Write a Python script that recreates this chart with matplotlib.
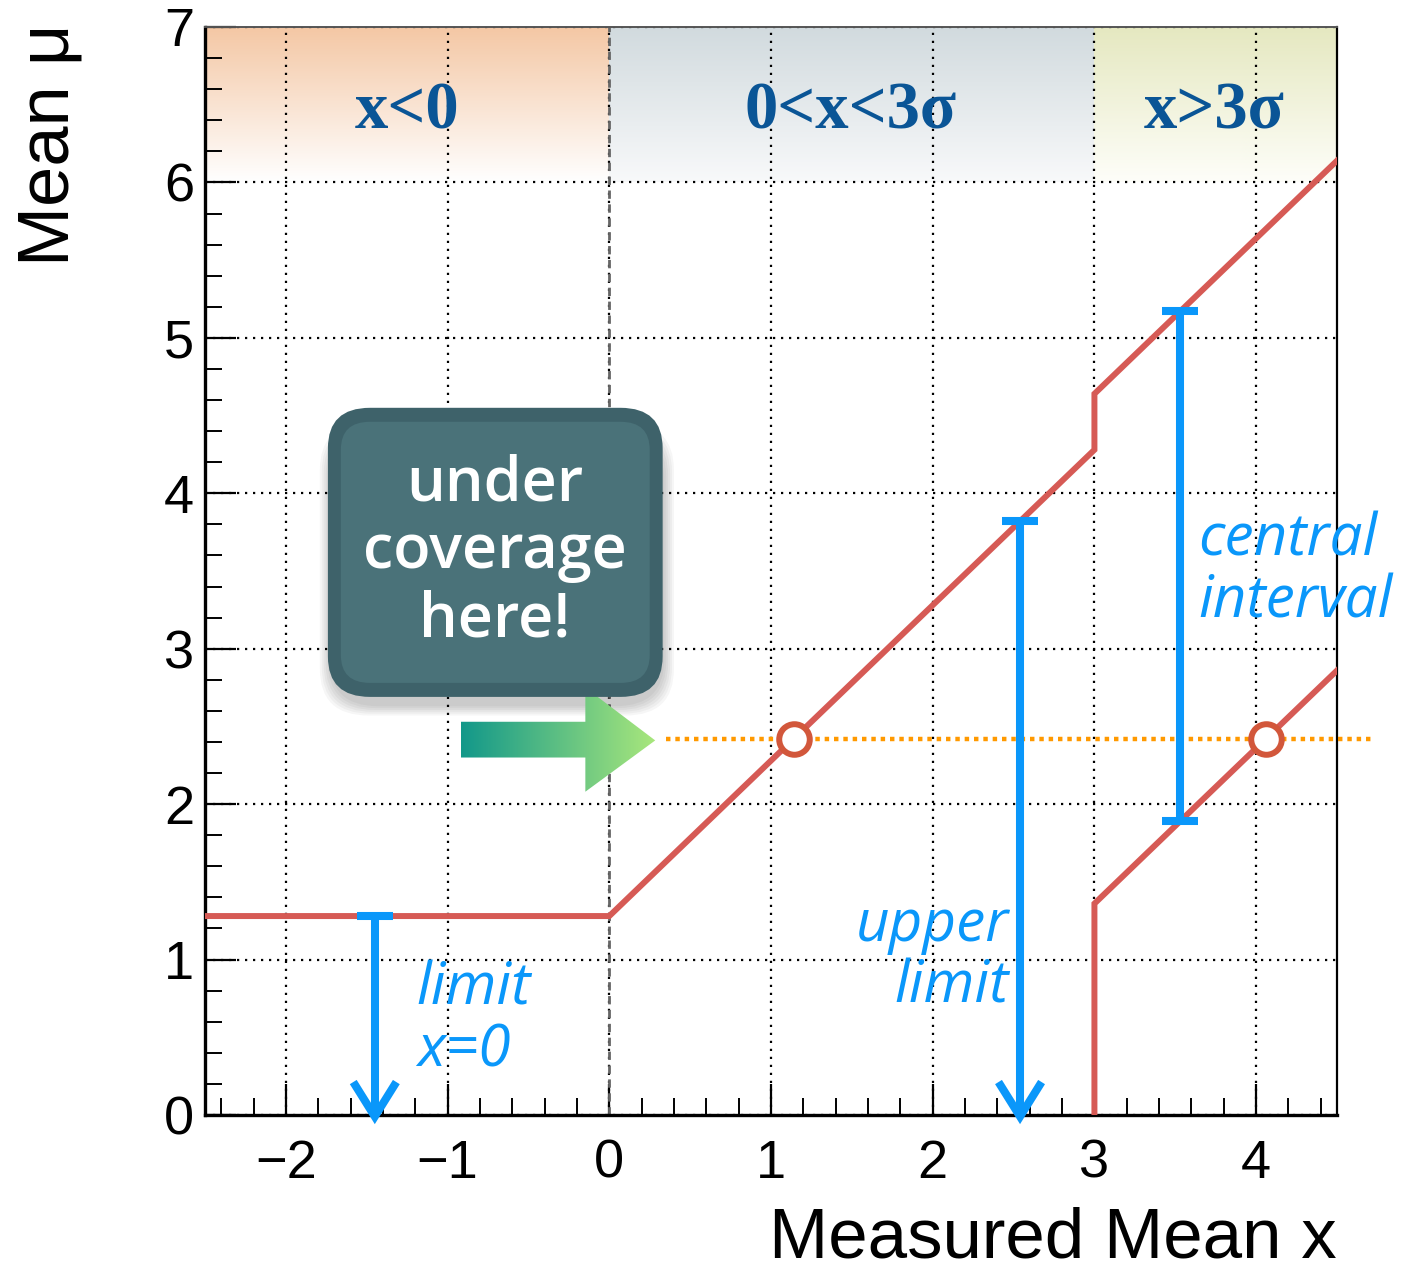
import numpy as np
import matplotlib
matplotlib.use("Agg")
import matplotlib.pyplot as plt
from matplotlib.patches import FancyBboxPatch, Polygon
from matplotlib.colors import to_rgb
from matplotlib.ticker import MultipleLocator

# ---- data -------------------------------------------------------------
x_range = [-2.5, 4.5]
mu_range = [0.0, 7.0]

# flip-flopping confidence belt (90% CL)
belt_upper_x = [-2.5, 0.0, 3.0, 3.0, 4.5]
belt_upper_mu = [1.28, 1.28, 4.28, 4.64, 6.14]
belt_lower_x = [3.0, 3.0, 4.5]
belt_lower_mu = [0.0, 1.36, 2.86]

# true mean tested and where it crosses the belt
mu_test = 2.42
mu_test_xspan = [0.35, 4.73]
crossing_x = [1.14, 4.06]

# example intervals
limit_x0_x, limit_x0_top = -1.45, 1.28
upper_limit_x, upper_limit_top = 2.54, 3.82
central_x, central_lo, central_hi = 3.53, 1.89, 5.17

# regions
region_edges = [-2.5, 0.0, 3.0, 4.5]
region_labels = ["x<0", "0<x<3σ", "x>3σ"]
region_label_x = [-1.25, 1.49, 3.74]
region_top_colors = ["#F4C7A4", "#D1DADE", "#E5E8C0"]
region_bottom_colors = ["#FFFFFF", "#F8F9FA", "#FEFEF9"]

x_ticks = [-2, -1, 0, 1, 2, 3, 4]
y_ticks = [0, 1, 2, 3, 4, 5, 6, 7]

# ---- figure -----------------------------------------------------------
W, H = 1419, 1263
fig = plt.figure(figsize=(W / 100, H / 100), dpi=100)
ax = fig.add_axes([205 / W, 1 - 1115 / H, (1337 - 205) / W, (1115 - 27) / H])
ax.set_xlim(*x_range)
ax.set_ylim(*mu_range)

RED = "#D65A55"
BLUE = "#0A97FA"
NAVY = "#0A5596"

# gradient bands at the top
for i in range(3):
    top = np.array(to_rgb(region_top_colors[i]))
    bot = np.array(to_rgb(region_bottom_colors[i]))
    t = np.linspace(0, 1, 200)[:, None]
    img = (top * (1 - t) + bot * t)[:, None, :]
    ax.imshow(img, extent=[region_edges[i], region_edges[i + 1], 6.0, 7.0],
              origin="upper", aspect="auto", zorder=0, interpolation="bilinear")
    ax.text(region_label_x[i], 6.45, region_labels[i], ha="center", va="center",
            fontsize=48, fontweight="bold", family="Liberation Serif", color=NAVY,
            zorder=3)

ax.set_xlim(*x_range)
ax.set_ylim(*mu_range)

# grid, ticks
ax.xaxis.set_major_locator(MultipleLocator(1))
ax.xaxis.set_minor_locator(MultipleLocator(0.2))
ax.yaxis.set_major_locator(MultipleLocator(1))
ax.yaxis.set_minor_locator(MultipleLocator(0.2))
ax.set_xticks(x_ticks)
ax.set_yticks(y_ticks)
ax.grid(True, which="major", color="black", linestyle=(0, (1, 2.6)), linewidth=1.6, zorder=1)
ax.set_axisbelow(True)
ax.tick_params(which="major", direction="in", length=22, width=1.6, top=False, right=False,
               labelsize=39)
ax.tick_params(which="minor", direction="in", length=12, width=1.4, top=False, right=False)
ax.tick_params(axis="x", which="major", pad=17)
ax.tick_params(axis="y", which="major", pad=8)
for lab in ax.get_xticklabels() + ax.get_yticklabels():
    lab.set_family("Liberation Sans")
for side in ["left", "bottom"]:
    ax.spines[side].set_linewidth(2.4)
ax.spines["right"].set_linewidth(1.6)
ax.spines["top"].set_linewidth(1.4)
ax.spines["top"].set_color("#555555")

# region separator at x = 0
ax.axvline(0.0, color="#666666", linestyle=(0, (3, 2)), linewidth=2.0, zorder=2)

# belt
ax.plot(belt_upper_x, belt_upper_mu, color=RED, lw=4.3, zorder=4, solid_joinstyle="miter")
ax.plot(belt_lower_x, belt_lower_mu, color=RED, lw=4.3, zorder=4, solid_joinstyle="miter")

# tested mean
ax.plot(mu_test_xspan, [mu_test, mu_test], color="#FF9900", lw=3.2,
        linestyle=(0, (1, 1.1)), zorder=5, clip_on=False)
ax.plot(crossing_x, [mu_test] * len(crossing_x), "o", ms=22, mfc="white",
        mec="#D2573B", mew=4.3, zorder=6)


def down_arrow(x, top):
    ax.plot([x, x], [0.02, top], color=BLUE, lw=5.8, zorder=7, solid_capstyle="butt")
    ax.plot([x - 0.11, x + 0.11], [top, top], color=BLUE, lw=5.8, zorder=7,
            solid_capstyle="butt")
    ax.plot([x - 0.12, x, x + 0.12], [0.19, -0.01, 0.19], color=BLUE, lw=5.8,
            zorder=7, solid_joinstyle="miter", clip_on=False)


down_arrow(limit_x0_x, limit_x0_top)
down_arrow(upper_limit_x, upper_limit_top)

ax.plot([central_x, central_x], [central_lo, central_hi], color=BLUE, lw=5.8, zorder=7,
        solid_capstyle="butt")
for yv in (central_lo, central_hi):
    ax.plot([central_x - 0.11, central_x + 0.11], [yv, yv], color=BLUE, lw=5.8, zorder=7,
            solid_capstyle="butt")

lab_kw = dict(fontsize=42, style="italic", family="Open Sans", color=BLUE, zorder=8,
              linespacing=1.07)
ax.text(-1.19, 0.61, "limit\nx=0", ha="left", va="center", **lab_kw)
ax.text(2.47, 1.02, "upper\nlimit", ha="right", va="center", multialignment="right", **lab_kw)
ax.text(3.64, 3.50, "central\ninterval", ha="left", va="center", **lab_kw)

# callout box with soft shadow underneath
bx0, bx1, by0, by1 = -1.74, 0.33, 2.69, 4.55
for k in range(6):
    grow = 0.06 - 0.012 * k
    ax.add_patch(FancyBboxPatch((bx0 - grow + 0.01, by0 - grow - 0.06),
                                bx1 - bx0 + 2 * grow, by1 - by0 + 2 * grow - 0.1,
                                boxstyle="round,pad=0,rounding_size=0.3",
                                fc="black", ec="none", alpha=0.035, zorder=9, clip_on=False))
ax.add_patch(FancyBboxPatch((bx0, by0), bx1 - bx0, by1 - by0,
                            boxstyle="round,pad=0,rounding_size=0.26",
                            fc="#3E626A", ec="none", zorder=10, clip_on=False))
ax.add_patch(FancyBboxPatch((bx0 + 0.08, by0 + 0.09), bx1 - bx0 - 0.16, by1 - by0 - 0.18,
                            boxstyle="round,pad=0,rounding_size=0.18",
                            fc="#4A7279", ec="none", zorder=10, clip_on=False))
ax.text(-0.71, 3.62, "under\ncoverage\nhere!", ha="center", va="center", color="white",
        fontsize=44, family="Open Sans", fontweight="semibold", linespacing=1.13, zorder=11)

# gradient arrow pointing at the tested mean
arrow_verts = [(-0.92, 2.30), (-0.92, 2.53), (-0.148, 2.53), (-0.148, 2.75),
               (0.284, 2.41), (-0.148, 2.08), (-0.148, 2.30)]
arrow_patch = Polygon(arrow_verts, closed=True, fc="none", ec="none", zorder=9)
ax.add_patch(arrow_patch)
c0 = np.array(to_rgb("#12988A"))
c1 = np.array(to_rgb("#A9E77C"))
s = np.linspace(0, 1, 300)[None, :, None]
grad = c0 * (1 - s) + c1 * s
im = ax.imshow(grad, extent=[-0.92, 0.284, 2.08, 2.75], aspect="auto", zorder=9,
               interpolation="bilinear")
im.set_clip_path(arrow_patch)

ax.set_xlim(*x_range)
ax.set_ylim(*mu_range)

# axis titles
fig.text(50 / W, 1 - 24 / H, "Mean μ", rotation=90, ha="center", va="top",
         fontsize=52, family="Liberation Sans")
fig.text(1337 / W, 1 - 1258 / H, "Measured Mean x", ha="right", va="baseline",
         fontsize=51, family="Liberation Sans")

fig.savefig("out.png", dpi=100)
